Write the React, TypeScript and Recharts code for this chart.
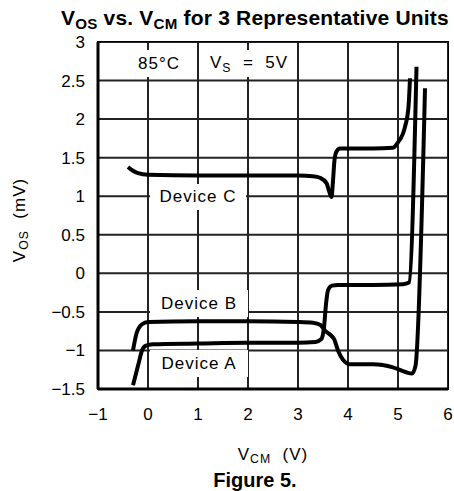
import React from 'react';
import { LineChart, Line, XAxis, YAxis, CartesianGrid } from 'recharts';

// V_CM (V) / V_OS (mV) for each unit
const A_X = [-0.3, -0.2, -0.12, -0.05, 0.1, 1, 2, 3, 3.35, 3.47, 3.52, 3.56, 3.6, 3.68, 3.8, 4.5, 5.1, 5.22, 5.37];
const A_V = [-1.45, -1.2, -1.0, -0.94, -0.92, -0.91, -0.9, -0.9, -0.89, -0.85, -0.7, -0.4, -0.22, -0.16, -0.15, -0.15, -0.14, -0.12, 2.68];

const B_X = [-0.3, -0.23, -0.12, 0, 1, 2, 3, 3.3, 3.45, 3.55, 3.65, 3.72, 3.8, 3.9, 4.05, 4.5, 4.9, 5.15, 5.28, 5.35, 5.54];
const B_V = [-1.0, -0.78, -0.66, -0.63, -0.62, -0.62, -0.63, -0.64, -0.67, -0.75, -0.8, -0.85, -1.0, -1.12, -1.18, -1.18, -1.22, -1.28, -1.3, -1.2, 2.4];

const C_X = [-0.4, -0.3, -0.2, 0, 1, 2, 3, 3.3, 3.44, 3.57, 3.62, 3.67, 3.7, 3.73, 3.77, 3.84, 4.5, 4.9, 5.0, 5.14, 5.21, 5.24];
const C_V = [1.38, 1.33, 1.3, 1.28, 1.27, 1.27, 1.27, 1.26, 1.24, 1.17, 1.07, 0.99, 1.2, 1.47, 1.58, 1.62, 1.62, 1.63, 1.7, 1.9, 2.16, 2.53];

const X_TICKS = [-1, 0, 1, 2, 3, 4, 5, 6];
const Y_TICKS = [-1.5, -1, -0.5, 0, 0.5, 1, 1.5, 2, 2.5, 3];

const toPoints = (xs: number[], vs: number[]) => xs.map((x, i) => ({ x, v: vs[i] }));

const fmt = (n: number) => (n < 0 ? '\u2212' + Math.abs(n) : String(n));

const FONT = '"Liberation Sans", Arial, sans-serif';

const Note = ({ left, top, width, height, children }: any) => (
  <div
    style={{
      position: 'absolute',
      left,
      top,
      width,
      height,
      background: '#fff',
      display: 'flex',
      alignItems: 'center',
      justifyContent: 'center',
      fontFamily: FONT,
      fontSize: 17,
      letterSpacing: 1,
      color: '#000',
      whiteSpace: 'nowrap',
    }}
  >
    {children}
  </div>
);

const Sub = ({ children, drop = '-0.3em' }: any) => (
  <span style={{ fontSize: '0.72em', verticalAlign: drop, lineHeight: 1 }}>{children}</span>
);

export default function App() {
  const devA = toPoints(A_X, A_V);
  const devB = toPoints(B_X, B_V);
  const devC = toPoints(C_X, C_V);

  return (
    <div style={{ position: 'absolute', left: 0, top: 0, width: 454, height: 491, background: '#fff', overflow: 'hidden' }}>
      <div style={{ position: 'absolute', left: 0, top: 0 }}>
        <LineChart width={454} height={491} margin={{ top: 42, right: 6, bottom: 72, left: 0 }}>
          <CartesianGrid stroke="#222" strokeWidth={2} />
          <XAxis
            type="number"
            dataKey="x"
            domain={[-1, 6]}
            ticks={X_TICKS}
            allowDuplicatedCategory={false}
            tickFormatter={fmt}
            height={30}
            tickLine={false}
            tickSize={6}
            tickMargin={13}
            axisLine={{ stroke: '#000', strokeWidth: 3 }}
            tick={{ fill: '#000', fontSize: 17, fontFamily: FONT }}
          />
          <YAxis
            type="number"
            dataKey="v"
            domain={[-1.5, 3]}
            ticks={Y_TICKS}
            tickFormatter={fmt}
            width={98}
            tickLine={false}
            tickSize={0}
            tickMargin={13}
            axisLine={{ stroke: '#000', strokeWidth: 3 }}
            tick={{ fill: '#000', fontSize: 17, fontFamily: FONT }}
          />
          <Line data={devA} dataKey="v" type="monotone" stroke="#000" strokeWidth={4} dot={false} isAnimationActive={false} />
          <Line data={devB} dataKey="v" type="monotone" stroke="#000" strokeWidth={4} dot={false} isAnimationActive={false} />
          <Line data={devC} dataKey="v" type="monotone" stroke="#000" strokeWidth={4} dot={false} isAnimationActive={false} />
        </LineChart>
      </div>

      {/* border on top and right */}
      <div style={{ position: 'absolute', left: 97, top: 41, width: 350, height: 347, border: '1.5px solid #000', pointerEvents: 'none' }} />

      <Note left={128} top={50} width={62} height={27}>85°C</Note>
      <Note left={205} top={50} width={88} height={27}>
        <span>V<Sub>S</Sub>&nbsp;&nbsp;=&nbsp;&nbsp;5V</span>
      </Note>
      <Note left={150} top={184} width={96} height={26}>Device C</Note>
      <Note left={150} top={290} width={98} height={27}>Device B</Note>
      <Note left={150} top={350} width={98} height={27}>Device A</Note>

      <div style={{ position: 'absolute', left: 0, width: 454, top: 7, paddingLeft: 56, boxSizing: 'border-box', textAlign: 'center', fontFamily: FONT, fontWeight: 'bold', fontSize: 21, letterSpacing: 0.2, lineHeight: '22px', whiteSpace: 'nowrap' }}>
        V<Sub drop="-4px">OS</Sub> vs. V<Sub drop="-4px">CM</Sub> for 3 Representative Units
      </div>

      <div style={{ position: 'absolute', left: 20, top: 220, width: 0, height: 0 }}>
        <div style={{ position: 'absolute', transform: 'translate(-50%, -50%) rotate(-90deg)', fontFamily: FONT, fontSize: 17, letterSpacing: 1, whiteSpace: 'nowrap' }}>
          V<Sub>OS</Sub>&nbsp;&nbsp;(mV)
        </div>
      </div>

      <div style={{ position: 'absolute', left: 273, top: 455, width: 0, height: 0 }}>
        <div style={{ position: 'absolute', transform: 'translate(-50%, -50%)', fontFamily: FONT, fontSize: 17, letterSpacing: 1, whiteSpace: 'nowrap' }}>
          V<Sub>CM</Sub>&nbsp;&nbsp;(V)
        </div>
      </div>

      <div style={{ position: 'absolute', left: 0, width: 454, top: 468, paddingLeft: 56, boxSizing: 'border-box', textAlign: 'center', fontFamily: FONT, fontWeight: 'bold', fontSize: 20, lineHeight: '24px' }}>
        Figure 5.
      </div>
    </div>
  );
}
